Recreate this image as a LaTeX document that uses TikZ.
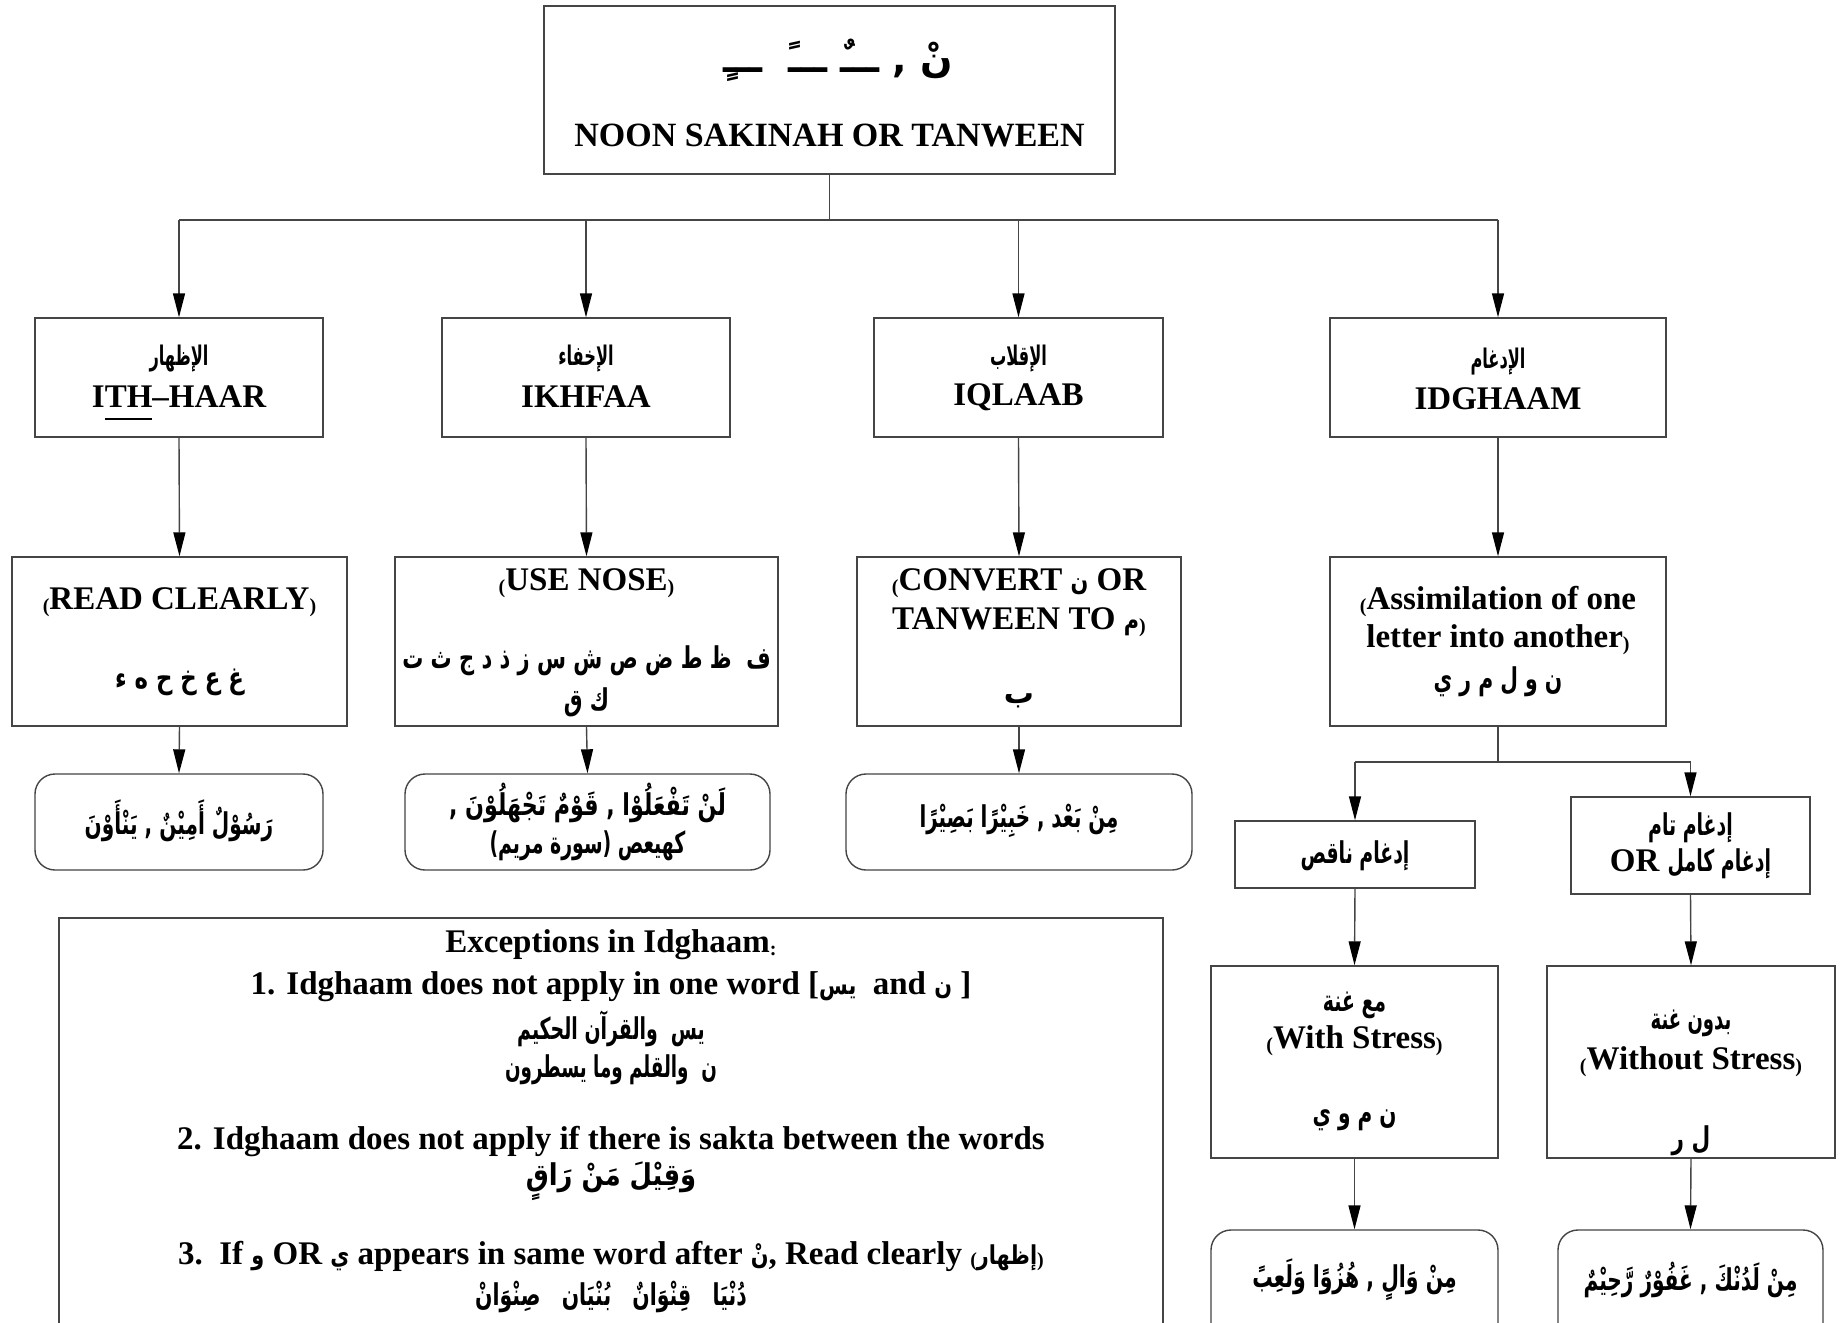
\documentclass[tikz,border=0pt]{standalone}
\usepackage{fontspec}
\usepackage{graphicx}
\setmainfont{Liberation Serif}
\newfontfamily\arabicfont[Script=Arabic]{DejaVu Sans}
\TeXXeTstate=1
\usetikzlibrary{arrows.meta}

\definecolor{linec}{HTML}{454545}

% right-to-left Arabic run
\newcommand\artext[1]{{\arabicfont\beginR #1\endR}}
% narrowed Arabic run (optional width factor)
\newcommand\arc[2][0.65]{\scalebox{#1}[1]{\artext{#2}}}
% smaller inline Arabic inside Latin lines
\newcommand\arsm[1]{{\arabicfont\fontsize{13}{15}\selectfont\scalebox{0.8}[1]{\beginR #1\endR}}}
% small lowered brackets and colon
\newcommand\smp[1]{\raisebox{-1.5pt}{\fontsize{10}{10}\selectfont #1}}
% underline set well below the baseline
\newcommand\lowul[1]{\setbox0\hbox{#1}\rlap{\smash{\rule[-6pt]{\wd0}{0.8pt}}}\box0}

\begin{document}
\begin{tikzpicture}[x=0.5pt,y=-0.5pt,
  lnk/.style={draw=linec, line width=0.7pt},
  box/.style={lnk, rectangle, inner sep=0pt},
  rbox/.style={box, rounded corners=10pt},
  wh/.style 2 args={minimum width=#1*0.5pt, minimum height=#2*0.5pt},
  arr/.style={lnk, -{Triangle[length=12pt,width=6pt,color=black]}},
  en/.style={font=\fontsize{16.5}{19}\selectfont\bfseries, inner sep=0pt, align=center},
  arh/.style={font=\arabicfont\fontsize{13.5}{15}\selectfont\bfseries, inner sep=0pt, align=center},
  arb/.style={font=\arabicfont\fontsize{15}{18}\selectfont\bfseries, inner sep=0pt, align=center},
]
\useasboundingbox (0,0) rectangle (1844,1323);
\clip (0,0) rectangle (1844,1323);
\fill[white] (0,0) rectangle (1844,1323);

% ---- boxes ----
\node[box, wh={571}{168}] (top) at (829.5,90) {};
\node[box, wh={288}{119}] (ith) at (179,377.5) {};
\node[box, wh={288}{119}] (ikh) at (586,377.5) {};
\node[box, wh={289}{119}] (iql) at (1018.5,377.5) {};
\node[box, wh={336}{119}] (idg) at (1498,377.5) {};

\node[box, wh={335}{169}] (read) at (179.5,641.5) {};
\node[box, wh={383}{169}] (nose) at (586.5,641.5) {};
\node[box, wh={324}{169}] (conv) at (1019,641.5) {};
\node[box, wh={336}{169}] (assim) at (1498,641.5) {};

\node[rbox, wh={288}{96}] (exa) at (179,822) {};
\node[rbox, wh={365}{96}] (exb) at (587.5,822) {};
\node[rbox, wh={346}{96}] (exc) at (1019,822) {};

\node[box, wh={240}{67}] (naq) at (1355,854.5) {};
\node[box, wh={239}{97}] (taam) at (1690.5,845.5) {};
\node[box, wh={287}{192}] (with) at (1354.5,1062) {};
\node[box, wh={288}{192}] (without) at (1691,1062) {};
\node[rbox, wh={287}{115}] (exd) at (1354.5,1287.5) {};
\node[rbox, wh={265}{115}] (exe) at (1690.5,1287.5) {};

\node[box, wh={1104}{427}] (except) at (611,1131.5) {};

% ---- connectors ----
\coordinate (bus) at (829.5,220);
\draw[lnk] (top.south) -- (bus);
\draw[lnk] (ith.north |- bus) -- (idg.north |- bus);
\foreach \b in {ith,ikh,iql,idg} \draw[arr] (\b.north |- bus) -- (\b.north);
\draw[arr] (ith.south) -- (read.north);
\draw[arr] (ikh.south) -- (nose.north);
\draw[arr] (iql.south) -- (conv.north);
\draw[arr] (idg.south) -- (assim.north);
\draw[arr] (read.south) -- (exa.north);
\draw[arr] (nose.south) -- (exb.north);
\draw[arr] (conv.south) -- (exc.north);
\coordinate (split) at (1498,762);
\draw[lnk] (assim.south) -- (split);
\draw[lnk] (naq.north |- split) -- (taam.north |- split);
\draw[arr] (naq.north |- split) -- (naq.north);
\draw[arr] (taam.north |- split) -- (taam.north);
\draw[arr] (naq.south) -- (with.north);
\draw[arr] (taam.south) -- (without.north);
\draw[arr] (with.south) -- (exd.north);
\draw[arr] (without.south) -- (exe.north);

% ---- texts ----
\node[font=\arabicfont\fontsize{19}{22}\selectfont\bfseries, inner sep=0pt] (topar) at (838,60) {\artext{نْ , ـــٌ ـــً \ ـــٍ}};
\node[font=\fontsize{17}{20}\selectfont\bfseries, inner sep=0pt] (topen) at (829.5,135) {NOON SAKINAH OR TANWEEN};

\node[arh] (ithar) at (179,359) {\arc[0.6]{الإظهار}};
\node[en] (ithen) at (179,397) {I\lowul{TH}--HAAR};
\node[arh] (ikhar) at (586,359) {\arc[0.6]{الإخفاء}};
\node[en] (ikhen) at (586,397) {IKHFAA};
\node[arh] (iqlar) at (1018.5,359) {\arc[0.6]{الإقلاب}};
\node[en] (iqlen) at (1018.5,397) {IQLAAB};
\node[arh] (idgar) at (1498,362) {\arc[0.6]{الإدغام}};
\node[en] (idgen) at (1498,399) {IDGHAAM};

\node[en] (readen) at (179.5,602) {\smp{(}READ CLEARLY\smp{)}};
\node[arb] (readar) at (179.5,682) {\arc[0.76]{غ ع خ ح ه ء}};
\node[en] (noseen) at (586.5,583) {\smp{(}USE NOSE\smp{)}};
\node[arb] (nosear) at (586.5,681) {\arc[0.7]{ف \ ظ ط ض ص ش س ز ذ د ج ث ت}\\[3pt]\arc[0.7]{ك ق}};
\node[en] (conven) at (1019,583) {\smp{(}CONVERT \arsm{ن} OR};
\node[en] (convfn) at (1019,622) {TANWEEN TO \arsm{م}\smp{)}};
\node[arb] (convar) at (1019,701) {\artext{ب}};
\node[en] (assimen) at (1498,602) {\smp{(}Assimilation of one};
\node[en] (assimfn) at (1498,640) {letter into another\smp{)}};
\node[arb] (assimar) at (1498,682) {\arc[0.68]{ن و ل م ر ي}};

\node[arb] (exatx) at (179,821) {\arc[0.67]{رَسُوْلٌ أَمِيْنٌ , يَنْأَوْنَ}};
\node[arb] (exbtx) at (587.5,822) {\arc[0.74]{لَنْ تَفْعَلُوْا , قَوْمٌ تَجْهَلُوْنَ ,}\\[1pt]\arc[0.63]{كهيعص (سورة مريم)}};
\node[arb] (exctx) at (1019,821) {\arc[0.66]{مِنْ بَعْد , خَبِيْرًا بَصِيْرًا}};

\node[arb] (naqtx) at (1355,856) {\arc[0.63]{إدغام ناقص}};
\node[arb] (taamtx) at (1690.5,828) {\arc[0.63]{إدغام تام}};
\node[en] (taamty) at (1690.5,864) {OR {\fontsize{15}{17}\selectfont\arc[0.63]{إدغام كامل}}};

\node[arb] (withar) at (1354.5,1005) {\arc[0.63]{مع غنة}};
\node[en] (withen) at (1354.5,1041) {\smp{(}With Stress\smp{)}};
\node[arb] (withlt) at (1354.5,1120) {\arc[0.67]{ن م و ي}};
\node[arb] (woar) at (1691,1023) {\arc[0.6]{بدون غنة}};
\node[en] (woen) at (1691,1062) {\smp{(}Without Stress\smp{)}};
\node[arb] (wolt) at (1691,1141) {\arc[0.72]{ل ر}};
\node[arb] (exdtx) at (1354.5,1280) {\arc[0.68]{مِنْ وَالٍ , هُزُوًا وَلَعِبً}};
\node[arb] (exetx) at (1690.5,1280) {\arc[0.67]{مِنْ لَدُنْكَ , غَفُوْرٌ رَّحِيْمٌ}};

\node[en] (xt0) at (611,945) {Exceptions in Idghaam\smp{:}};
\node[en] (xt1) at (611,987) {1. Idghaam does not apply in one word [\arsm{يس}\ \ and \arsm{ن} ]};
\node[arb] (xa1) at (611,1048) {\arc[0.63]{يس \ والقرآن الحكيم}\\[1pt]\arc[0.61]{ن \ والقلم وما يسطرون}};
\node[en] (xt2) at (611,1142) {2. Idghaam does not apply if there is sakta between the words};
\node[arb] (xa3) at (611,1181) {\arc[0.86]{وَقِيْلَ مَنْ رَاقٍ}};
\node[en] (xt3) at (611,1256) {3.\ \ If \arsm{و} OR \arsm{ي} appears in same word after \arsm{نْ}, Read clearly \smp{(}\arsm{إظهار}\smp{)}};
\node[arb] (xa4) at (611,1297) {\arc[0.68]{دُنْيَا \ \ قِنْوَانٌ \ \ بُنْيَان \ \ صِنْوَانْ}};
\end{tikzpicture}
\end{document}
